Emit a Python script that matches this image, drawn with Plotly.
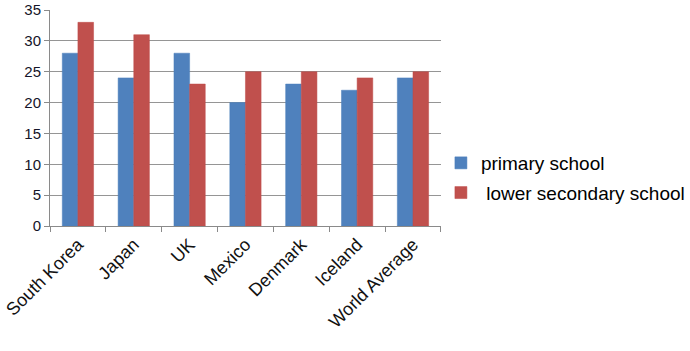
import plotly.graph_objects as go

categories = ["South Korea", "Japan", "UK", "Mexico", "Denmark", "Iceland", "World Average"]
primary = [28, 24, 28, 20, 23, 22, 24]
lower_secondary = [33, 31, 23, 25, 25, 24, 25]
y_ticks = [0, 5, 10, 15, 20, 25, 30, 35]

fig = go.Figure()
fig.add_trace(go.Bar(x=categories, y=primary, name="primary school",
                     marker=dict(color="#4F81BD", line=dict(color="#4A7EBB", width=0.5)),
                     legendgroup="a"))
fig.add_trace(go.Bar(x=categories, y=lower_secondary, name=" lower secondary school",
                     marker=dict(color="#C0504D", line=dict(color="#BE4B48", width=0.5)),
                     legendgroup="b"))

fig.update_layout(
    width=690, height=351,
    margin=dict(l=50, r=249, t=10, b=125),
    paper_bgcolor="white", plot_bgcolor="white",
    barmode="group", bargap=0.44, bargroupgap=0,
    font=dict(family="Liberation Sans, Arial", size=14, color="#111111"),
    showlegend=True,
    legend=dict(xref="container", yref="container", x=0.639, y=1 - 178 / 351,
                xanchor="left", yanchor="middle",
                font=dict(size=19, color="#000000"), tracegroupgap=2, traceorder="grouped",
                itemwidth=30, bgcolor="rgba(0,0,0,0)"),
    xaxis=dict(tickangle=-45, showline=True, linecolor="#8a8a8a", linewidth=1,
               ticks="outside", tickson="boundaries", ticklen=5, tickcolor="#8a8a8a",
               showgrid=False, tickfont=dict(size=18, color="#111111"), automargin=False),
    yaxis=dict(range=[0, 35], tickvals=y_ticks, showline=True, linecolor="#8a8a8a",
               linewidth=1, ticks="outside", ticklen=5, tickcolor="#8a8a8a",
               showgrid=True, gridcolor="#959595", gridwidth=1.3, zeroline=False,
               tickfont=dict(size=15, color="#141428"), automargin=False),
)
fig.write_html("out.html")
